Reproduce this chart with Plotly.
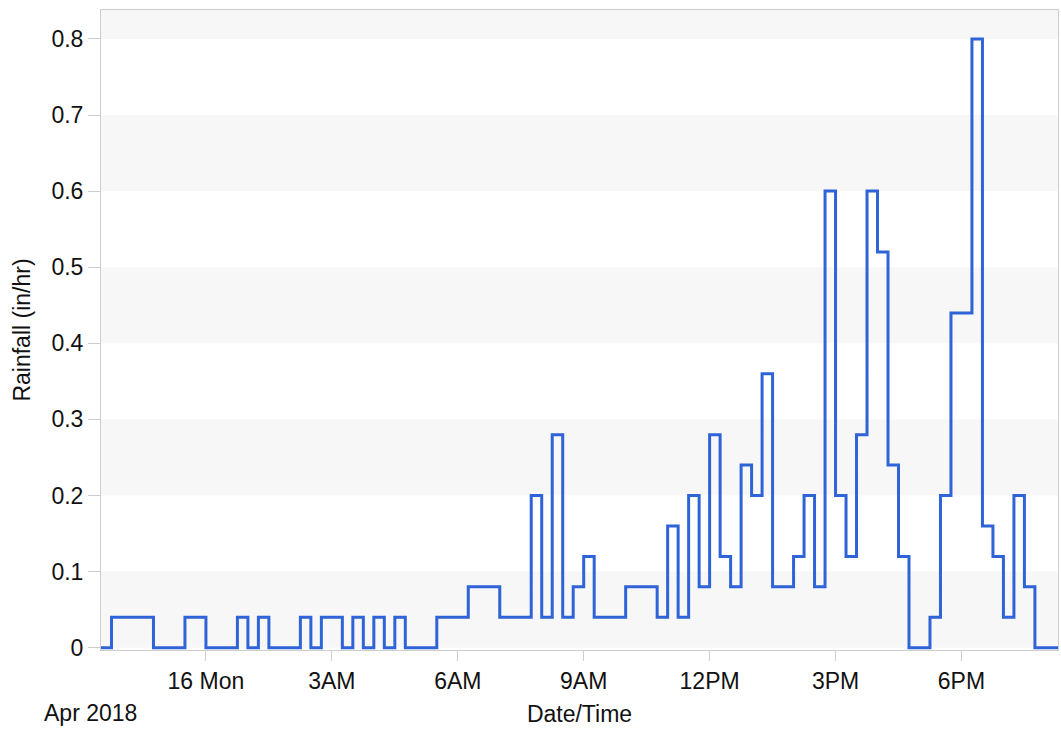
import plotly.graph_objects as go

# ---- data ----
times = [
    "2018-04-15 21:30", "2018-04-15 21:45", "2018-04-15 22:45", "2018-04-15 23:30",
    "2018-04-16 00:00", "2018-04-16 00:45", "2018-04-16 01:00", "2018-04-16 01:15",
    "2018-04-16 01:30", "2018-04-16 02:15", "2018-04-16 02:30", "2018-04-16 02:45",
    "2018-04-16 03:15", "2018-04-16 03:30", "2018-04-16 03:45", "2018-04-16 04:00",
    "2018-04-16 04:15", "2018-04-16 04:30", "2018-04-16 04:45", "2018-04-16 05:30",
    "2018-04-16 06:15", "2018-04-16 07:00", "2018-04-16 07:45", "2018-04-16 08:00",
    "2018-04-16 08:15", "2018-04-16 08:30", "2018-04-16 08:45", "2018-04-16 09:00",
    "2018-04-16 09:15", "2018-04-16 10:00", "2018-04-16 10:45", "2018-04-16 11:00",
    "2018-04-16 11:15", "2018-04-16 11:30", "2018-04-16 11:45", "2018-04-16 12:00",
    "2018-04-16 12:15", "2018-04-16 12:30", "2018-04-16 12:45", "2018-04-16 13:00",
    "2018-04-16 13:15", "2018-04-16 13:30", "2018-04-16 14:00", "2018-04-16 14:15",
    "2018-04-16 14:30", "2018-04-16 14:45", "2018-04-16 15:00", "2018-04-16 15:15",
    "2018-04-16 15:30", "2018-04-16 15:45", "2018-04-16 16:00", "2018-04-16 16:15",
    "2018-04-16 16:30", "2018-04-16 16:45", "2018-04-16 17:15", "2018-04-16 17:30",
    "2018-04-16 17:45", "2018-04-16 18:15", "2018-04-16 18:30", "2018-04-16 18:45",
    "2018-04-16 19:00", "2018-04-16 19:15", "2018-04-16 19:30", "2018-04-16 19:45",
    "2018-04-16 20:18",
]
rainfall = [
    0, 0.04, 0, 0.04,
    0, 0.04, 0, 0.04,
    0, 0.04, 0, 0.04,
    0, 0.04, 0, 0.04,
    0, 0.04, 0, 0.04,
    0.08, 0.04, 0.2, 0.04,
    0.28, 0.04, 0.08, 0.12,
    0.04, 0.08, 0.04, 0.16,
    0.04, 0.2, 0.08, 0.28,
    0.12, 0.08, 0.24, 0.2,
    0.36, 0.08, 0.12, 0.2,
    0.08, 0.6, 0.2, 0.12,
    0.28, 0.6, 0.52, 0.24,
    0.12, 0, 0.04, 0.2,
    0.44, 0.8, 0.16, 0.12,
    0.04, 0.2, 0.08, 0,
    0,
]

x_tick_vals = ["2018-04-16 00:00", "2018-04-16 03:00", "2018-04-16 06:00",
               "2018-04-16 09:00", "2018-04-16 12:00", "2018-04-16 15:00",
               "2018-04-16 18:00"]
x_tick_text = ["16 Mon", "3AM", "6AM", "9AM", "12PM", "3PM", "6PM"]
y_tick_vals = [0, 0.1, 0.2, 0.3, 0.4, 0.5, 0.6, 0.7, 0.8]
y_tick_text = ["0", "0.1", "0.2", "0.3", "0.4", "0.5", "0.6", "0.7", "0.8"]
band_starts = [0, 0.2, 0.4, 0.6, 0.8]
band_ends = [0.1, 0.3, 0.5, 0.7, 0.9]

x_range = ["2018-04-15 21:30", "2018-04-16 20:18"]
y_range = [-0.003, 0.838]

FONT = "Liberation Sans, Arial, sans-serif"
AXIS_GREY = "#cdcdcd"
FS = 23

fig = go.Figure()
fig.add_trace(go.Scatter(
    x=times, y=rainfall, mode="lines", line_shape="hv",
    line=dict(color="#2f63d8", width=3), showlegend=False,
))

for b0, b1 in zip(band_starts, band_ends):
    fig.add_shape(type="rect", xref="paper", yref="y", x0=0, x1=1,
                  y0=b0, y1=b1, fillcolor="#f7f7f7", line_width=0,
                  layer="below")

fig.update_layout(
    width=1061, height=731,
    margin=dict(l=101, r=3, t=10, b=81),
    paper_bgcolor="white", plot_bgcolor="white",
    font=dict(family=FONT, size=FS, color="#111111"),
    xaxis=dict(
        type="date", range=x_range, tickmode="array",
        tickvals=x_tick_vals, ticktext=x_tick_text,
        showgrid=False, zeroline=False, automargin=False,
        showline=True, mirror=True, linecolor=AXIS_GREY, linewidth=1,
        ticks="outside", ticklen=10, tickcolor=AXIS_GREY,
        tickfont=dict(size=FS),
        title=dict(text="Date/Time", font=dict(size=FS), standoff=13),
    ),
    yaxis=dict(
        range=y_range, tickmode="array",
        tickvals=y_tick_vals, ticktext=y_tick_text,
        showgrid=False, zeroline=False, automargin=False,
        showline=True, mirror=True, linecolor=AXIS_GREY, linewidth=1,
        ticks="outside", ticklen=12, tickcolor=AXIS_GREY,
        tickfont=dict(size=FS),
        title=dict(text="Rainfall (in/hr)", font=dict(size=FS), standoff=14),
    ),
    annotations=[dict(
        text="Apr 2018", xref="paper", yref="paper",
        x=-0.062, y=-0.099, xanchor="left", yanchor="middle",
        showarrow=False, font=dict(size=FS),
    )],
)

fig.write_html("out.html", config={"displayModeBar": False},
               post_script="document.body.style.margin='0';")
